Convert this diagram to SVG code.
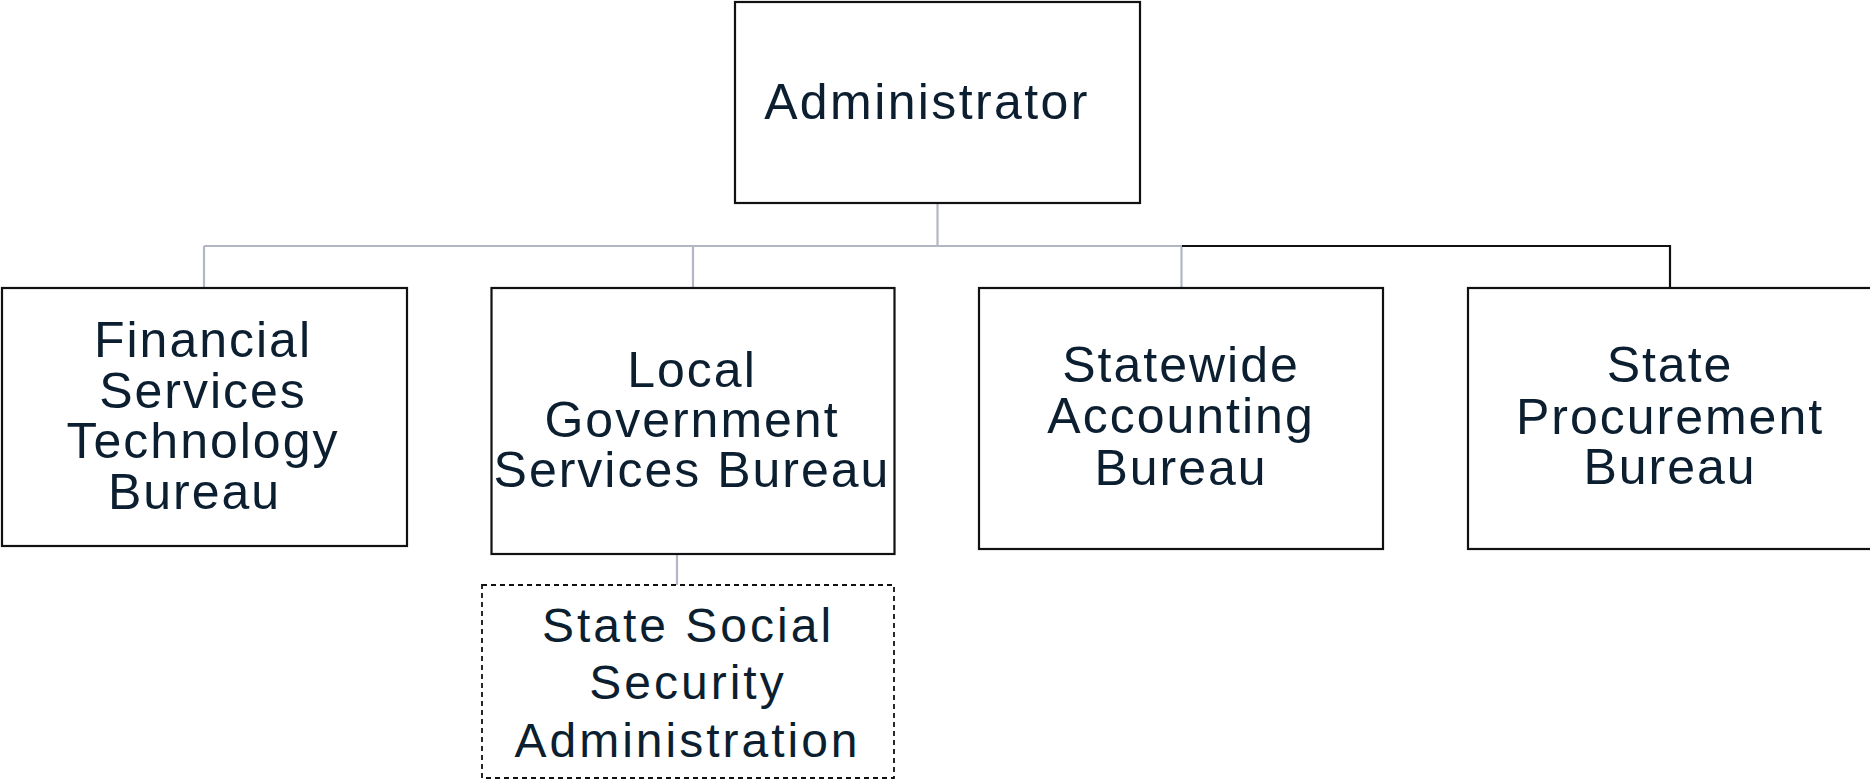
<svg xmlns="http://www.w3.org/2000/svg" width="1870" height="782" viewBox="0 0 1870 782">
<style>
.box{fill:#fff;stroke:#111;stroke-width:2.2}
.dash{fill:#fff;stroke:#111;stroke-width:1.8;stroke-dasharray:5 4}
.t{font-family:"Liberation Sans",Arial,sans-serif;font-size:50px;fill:#0c1f31;text-anchor:middle;letter-spacing:2px}
.d{font-size:48px;letter-spacing:3px}
.gray{fill:none;stroke:#b3b6c3;stroke-width:2.2}
.blk{fill:none;stroke:#111;stroke-width:2.2}
</style>
<rect width="1870" height="782" fill="#fff"/>
<g id="connectors">
<path class="gray" d="M937.5 204V246M204 246H1182M204 246V288M693 246V288M1181.5 246V288M677 554V585"/>
<path class="blk" d="M1182 246H1670V288"/>
</g>
<g id="admin">
<rect class="box" x="735" y="2" width="405" height="201"/>
<text class="t" x="927" y="119" style="letter-spacing:2.4px">Administrator</text>
</g>
<g id="fstb">
<rect class="box" x="2" y="288" width="405" height="258"/>
<text class="t" x="203" y="357">Financial</text>
<text class="t" x="203" y="408">Services</text>
<text class="t" x="203" y="458">Technology</text>
<text class="t" x="194.5" y="509">Bureau</text>
</g>
<g id="lgsb">
<rect class="box" x="491.5" y="288" width="403" height="266"/>
<text class="t" x="692" y="387">Local</text>
<text class="t" x="692" y="437">Government</text>
<text class="t" x="692" y="487">Services Bureau</text>
</g>
<g id="sab">
<rect class="box" x="979" y="288" width="404" height="261"/>
<text class="t" x="1181" y="382">Statewide</text>
<text class="t" x="1181" y="433">Accounting</text>
<text class="t" x="1181" y="485">Bureau</text>
</g>
<g id="spb">
<rect class="box" x="1468" y="288" width="405" height="261"/>
<text class="t" x="1670" y="382">State</text>
<text class="t" x="1670" y="434">Procurement</text>
<text class="t" x="1670" y="484">Bureau</text>
</g>
<g id="sssa">
<rect class="dash" x="482" y="585" width="412" height="193"/>
<text class="t d" x="688" y="642">State Social</text>
<text class="t d" x="688" y="699">Security</text>
<text class="t d" x="687.5" y="757">Administration</text>
</g>
</svg>
